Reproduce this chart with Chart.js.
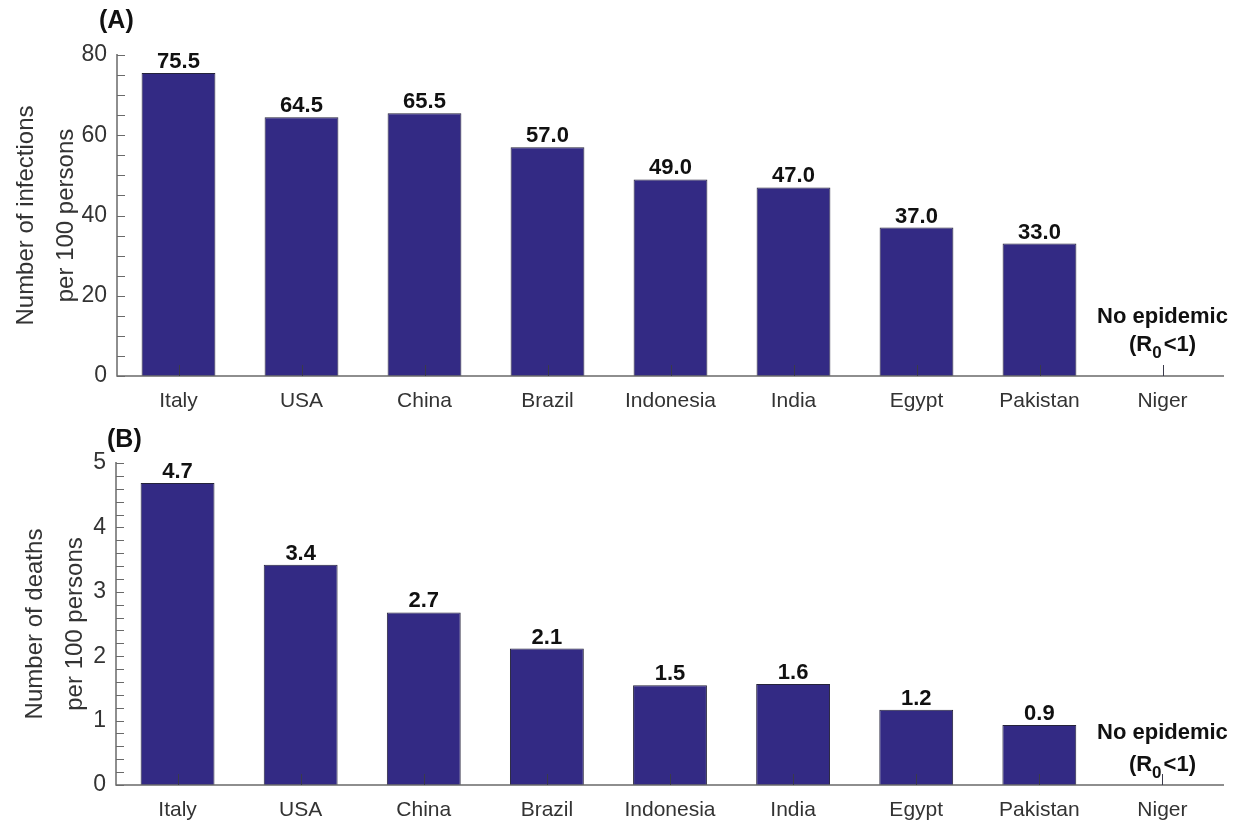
<!DOCTYPE html>
<html>
<head>
<meta charset="utf-8">
<script src="https://cdn.jsdelivr.net/npm/chart.js@4"></script>
<style>
html, body { margin: 0; padding: 0; background: #fff; }
#wrap { position: relative; width: 1233px; height: 823px; }
canvas { position: absolute; left: 0; }
#chartA { top: 0; }
#chartB { top: 412px; }
</style>
</head>
<body>
<div id="wrap">
<canvas id="chartA" width="1233" height="412"></canvas>
<canvas id="chartB" width="1233" height="411"></canvas>
</div>
<script>
// data
const countries = ['Italy', 'USA', 'China', 'Brazil', 'Indonesia', 'India', 'Egypt', 'Pakistan', 'Niger'];
const infections = [75.5, 64.5, 65.5, 57.0, 49.0, 47.0, 37.0, 33.0, null];
const infectionLabels = ['75.5', '64.5', '65.5', '57.0', '49.0', '47.0', '37.0', '33.0', ''];
const deaths = [4.69, 3.42, 2.68, 2.12, 1.55, 1.57, 1.17, 0.93, null];
const deathLabels = ['4.7', '3.4', '2.7', '2.1', '1.5', '1.6', '1.2', '0.9', ''];
const infectionTitle = ['Number of infections', 'per 100 persons'];
const deathTitle = ['Number of deaths', 'per 100 persons'];
const noteLine1 = 'No epidemic';
const noteLine2 = ['(R', '0', '<1)'];

const FONT = '"Liberation Sans", Arial, Helvetica, sans-serif';
const BAR = '#332a84';

// inward ticks, axis lines, value labels, panel letter and the Niger note
const decor = {
    id: 'decor',
    afterDatasetsDraw(chart, args, o) {
        const { ctx, chartArea: a, scales: { x, y } } = chart;
        ctx.save();
        ctx.strokeStyle = '#6a6a6a';
        ctx.lineWidth = 1.5;
        ctx.beginPath();
        ctx.moveTo(a.left, a.top - 1);
        ctx.lineTo(a.left, a.bottom);
        ctx.lineTo(a.right, a.bottom);
        ctx.stroke();

        ctx.lineWidth = 1;
        ctx.beginPath();
        const n = Math.round(y.max / o.minor);
        for (let k = 0; k <= n; k++) {
            const py = Math.round(y.getPixelForValue(k * o.minor)) + 0.5;
            ctx.moveTo(a.left, py);
            ctx.lineTo(a.left + 8, py);
        }
        ctx.stroke();

        ctx.strokeStyle = '#3a3a4a';
        ctx.beginPath();
        x.ticks.forEach((t, i) => {
            const px = Math.round(x.getPixelForTick(i)) + 0.5;
            ctx.moveTo(px, a.bottom);
            ctx.lineTo(px, a.bottom - 11);
        });
        ctx.stroke();

        // value labels
        const meta = chart.getDatasetMeta(0);
        ctx.fillStyle = '#111';
        ctx.font = 'bold 22px ' + FONT;
        ctx.textAlign = 'center';
        ctx.textBaseline = 'bottom';
        meta.data.forEach((bar, i) => {
            if (o.labels[i]) ctx.fillText(o.labels[i], bar.x, bar.y);
        });

        // panel letter
        ctx.font = 'bold 25px ' + FONT;
        ctx.textAlign = 'left';
        ctx.textBaseline = 'middle';
        ctx.fillText(o.letter, o.letterX, o.letterY);

        // no epidemic note
        const nx = x.getPixelForTick(countries.length - 1);
        const big = 'bold 22px ' + FONT, sub = 'bold 17px ' + FONT;
        ctx.font = big;
        ctx.textAlign = 'center';
        ctx.fillText(noteLine1, nx, a.bottom - o.note1);
        const w1 = ctx.measureText(noteLine2[0]).width;
        const w3 = ctx.measureText(noteLine2[2]).width;
        ctx.font = sub;
        const w2 = ctx.measureText(noteLine2[1]).width;
        let sx = nx - (w1 + w2 + w3 + 2) / 2;
        const ly = a.bottom - o.note2;
        ctx.textAlign = 'left';
        ctx.font = big;
        ctx.fillText(noteLine2[0], sx, ly);
        ctx.font = sub;
        ctx.fillText(noteLine2[1], sx + w1, ly + 8);
        ctx.font = big;
        ctx.fillText(noteLine2[2], sx + w1 + w2 + 2, ly);
        ctx.restore();
    }
};

function makeChart(id, values, cfg) {
    return new Chart(document.getElementById(id), {
        type: 'bar',
        data: {
            labels: countries,
            datasets: [{
                data: values,
                backgroundColor: BAR,
                borderColor: '#25233a',
                borderWidth: 1,
                barPercentage: 0.6,
                categoryPercentage: 1
            }]
        },
        options: {
            responsive: false,
            animation: false,
            layout: { padding: { top: cfg.top, right: 9, left: 0, bottom: 0 } },
            plugins: {
                legend: { display: false },
                tooltip: { enabled: false },
                decor: cfg.decor
            },
            scales: {
                x: {
                    grid: { display: false, drawTicks: false },
                    border: { display: false },
                    ticks: { color: '#333', font: { family: FONT, size: 21 }, padding: 13, maxRotation: 0, autoSkip: false },
                    afterFit(s) { s.height = cfg.xh; }
                },
                y: {
                    min: 0,
                    max: cfg.max,
                    ticks: { stepSize: cfg.step, color: '#333', font: { family: FONT, size: 23 }, padding: 10 },
                    grid: { display: false, drawTicks: false },
                    border: { display: false },
                    title: {
                        display: true,
                        text: cfg.title,
                        color: '#333',
                        font: { family: FONT, size: 24, lineHeight: 1.67 },
                        padding: { top: cfg.titlePad, bottom: 0 }
                    },
                    afterFit(s) { s.width = cfg.left; }
                }
            }
        },
        plugins: [decor]
    });
}

makeChart('chartA', infections, {
    top: 55, xh: 36, left: 117, max: 80, step: 20, title: infectionTitle, titlePad: 6,
    decor: { labels: infectionLabels, minor: 5, letter: '(A)', letterX: 99, letterY: 21, note1: 59, note2: 31 }
});
makeChart('chartB', deaths, {
    top: 51, xh: 38, left: 116, max: 5, step: 1, title: deathTitle, titlePad: 15,
    decor: { labels: deathLabels, minor: 0.2, letter: '(B)', letterX: 107, letterY: 28, note1: 52, note2: 20 }
});
</script>
</body>
</html>
